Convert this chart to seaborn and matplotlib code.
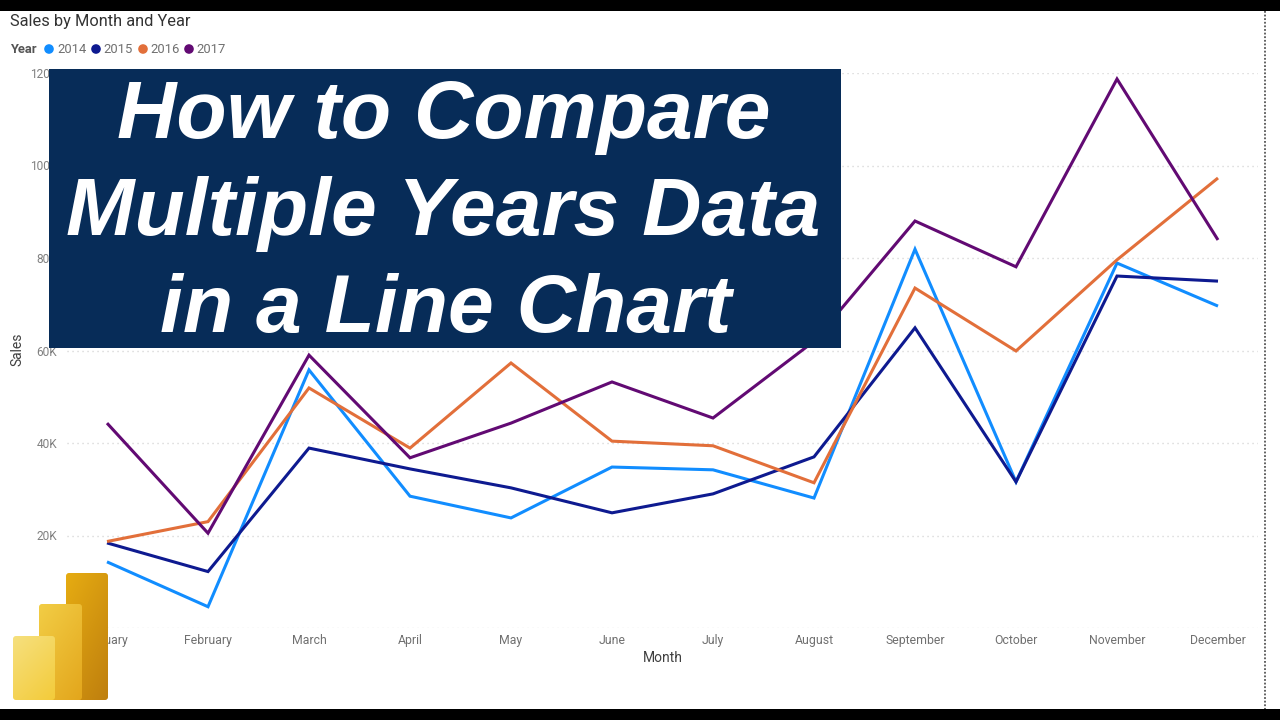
import numpy as np
import pandas as pd
import matplotlib
matplotlib.use("Agg")
import matplotlib.pyplot as plt
from matplotlib.patches import FancyBboxPatch, Rectangle, Circle
import seaborn as sns

months = ["January", "February", "March", "April", "May", "June", "July",
          "August", "September", "October", "November", "December"]
sales_2014 = [14.3, 4.6, 55.8, 28.5, 23.8, 34.8, 34.2, 28.1, 81.9, 31.6, 78.9, 69.6]
sales_2015 = [18.4, 12.2, 38.9, 34.4, 30.3, 24.9, 29.0, 37.0, 64.9, 31.6, 76.1, 75.0]
sales_2016 = [18.7, 23.0, 51.9, 38.9, 57.3, 40.4, 39.4, 31.4, 73.5, 59.9, 79.6, 97.3]
sales_2017 = [44.3, 20.5, 59.0, 36.8, 44.3, 53.2, 45.4, 62.0, 88.0, 78.1, 118.7, 83.9]
years = ["2014", "2015", "2016", "2017"]
colors = ["#118DFF", "#0E1A90", "#E26F3A", "#620A73"]
y_ticks = [0, 20, 40, 60, 80, 100, 120]
y_labels = ["0K", "20K", "40K", "60K", "80K", "100K", "120K"]
headline = ["How to Compare", "Multiple Years Data", "in a Line Chart"]

df = pd.concat([
    pd.DataFrame({"Month": months, "Sales": vals, "Year": yr})
    for yr, vals in zip(years, [sales_2014, sales_2015, sales_2016, sales_2017])
])

W, H = 1280, 720
sns.set_theme(style="white")
plt.rcParams["font.family"] = ["Roboto", "DejaVu Sans"]
fig = plt.figure(figsize=(W / 100, H / 100), dpi=100, facecolor="white")

# plot area in pixels
L, R, T, B = 67, 1258, 73, 628
ax = fig.add_axes([L / W, 1 - B / H, (R - L) / W, (B - T) / H])
sns.lineplot(data=df, x="Month", y="Sales", hue="Year", hue_order=years,
             palette=colors, linewidth=2.2, legend=False, ax=ax,
             solid_joinstyle="miter", solid_capstyle="butt", zorder=3)
ax.set_xlim(-0.396, 11.396)
ax.set_ylim(0, 120)
ax.set_yticks(y_ticks)
ax.set_yticklabels(y_labels)
ax.grid(axis="y", color="#cfcfcf", linewidth=1.0, linestyle=(0, (0.8, 2.8)))
ax.set_axisbelow(True)
for s in ax.spines.values():
    s.set_visible(False)
ax.tick_params(axis="x", length=0, pad=4.3, labelsize=8.8, labelcolor="#707070")
ax.tick_params(axis="y", length=0, pad=7, labelsize=8.6, labelcolor="#808080")
ax.set_xlabel("")
ax.set_ylabel("")

# overlay in pixel coordinates
ov = fig.add_axes([0, 0, 1, 1], facecolor="none", zorder=10)
ov.axis("off")

# axis titles
ov.text(663, 657.5, "Month", ha="center", va="center", fontsize=10, color="#404040")
ov.text(17.5, 349, "Sales", ha="center", va="center", rotation=90, fontsize=10, color="#404040")

# chart title and legend
ov.text(10, 21.5, "Sales by Month and Year", ha="left", va="center", fontsize=11.8, color="#333333")
ov.text(10, 49.5, "Year", ha="left", va="center", fontsize=9.4, fontweight="bold", color="#555555")
for cx, tx, yr, col in zip([49, 96, 143, 189], [57, 103, 150, 196], years, colors):
    ov.add_patch(Circle((cx, 49), 4.8, color=col, lw=0))
    ov.text(tx, 49.5, yr, ha="left", va="center", fontsize=9.4, color="#707070")

# black bars and right dotted rule
ov.add_patch(Rectangle((0, 0), W, 11, color="black", lw=0))
ov.add_patch(Rectangle((0, 709), W, 11, color="black", lw=0))
ov.plot([1265, 1265], [11, 709], color="#555555", lw=1.3, linestyle=(0, (1, 1)))

# banner
ov.add_patch(Rectangle((49, 69), 792, 279, color="#072C58", lw=0, zorder=5))
for line, base, cx in zip(headline, [138, 235, 332], [444, 443.5, 445.5]):
    ov.text(cx, base, line, ha="center", va="baseline", color="white", zorder=6,
            fontsize=59.2, fontweight="bold", fontstyle="italic",
            family=["Liberation Sans", "DejaVu Sans"])

# logo bars with gradients
def bar(x0, y0, x1, y1, c0, c1, z):
    c0 = np.array(matplotlib.colors.to_rgb(c0))
    c1 = np.array(matplotlib.colors.to_rgb(c1))
    t = np.linspace(0, 1, 64)
    u, v = np.meshgrid(t, t)
    a = ((0.4 * u + 0.6 * v)[..., None]) * (c1 - c0) + c0
    im = ov.imshow(a, extent=(x0, x1, y1, y0), zorder=z, aspect="auto", interpolation="bilinear")
    clip = FancyBboxPatch((x0 + 2.5, y0 + 2.5), x1 - x0 - 5, y1 - y0 - 5,
                          boxstyle="round,pad=2.5,rounding_size=3", transform=ov.transData,
                          fc="none", ec="none")
    ov.add_patch(clip)
    im.set_clip_path(clip)

bar(66, 573, 108, 700, "#E6AC12", "#BF7F0E", 7)
bar(39, 604, 82, 700, "#F2CD45", "#E3A61C", 8)
bar(13, 636, 55, 700, "#F6E07E", "#F3CB3A", 9)

ov.set_xlim(0, W)
ov.set_ylim(H, 0)
fig.savefig("out.png", dpi=100)
